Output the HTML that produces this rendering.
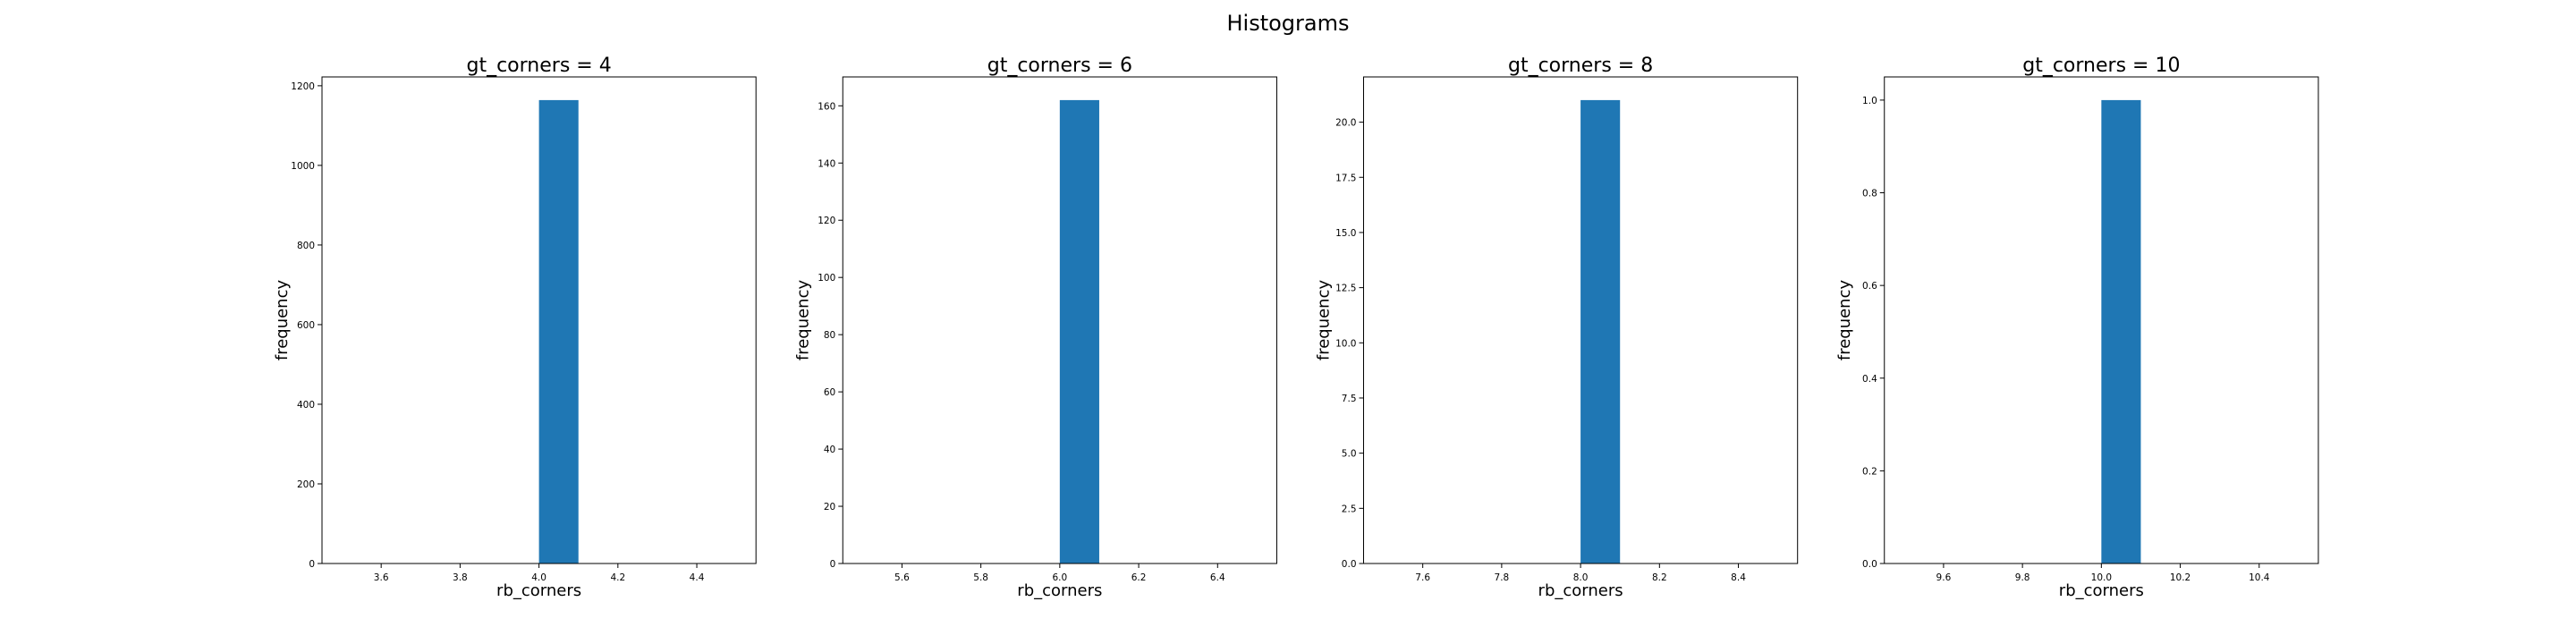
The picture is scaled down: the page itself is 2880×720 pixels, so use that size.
<!DOCTYPE html>
<html><head><meta charset="utf-8"><style>
html,body{margin:0;padding:0;background:#fff;width:2880px;height:720px;overflow:hidden}
svg text{font-family:"DejaVu Sans","Liberation Sans",sans-serif;fill:#000}
</style></head><body>
<svg id="fig" width="2880" height="720" xmlns="http://www.w3.org/2000/svg">
<rect width="2880" height="720" fill="#fff"/>
<text x="1440" y="34" font-size="24" text-anchor="middle">Histograms</text>
</svg>
<script>
const panelTitles = ["gt_corners = 4", "gt_corners = 6", "gt_corners = 8", "gt_corners = 10"];
const centers = [4, 6, 8, 10];
const counts4 = [0,0,0,0,0,1164,0,0,0,0];
const counts6 = [0,0,0,0,0,162,0,0,0,0];
const counts8 = [0,0,0,0,0,21,0,0,0,0];
const counts10 = [0,0,0,0,0,1,0,0,0,0];
const yTicks4 = [0,200,400,600,800,1000,1200];
const yTicks6 = [0,20,40,60,80,100,120,140,160];
const yTicks8 = [0,2.5,5,7.5,10,12.5,15,17.5,20];
const yTicks10 = [0,0.2,0.4,0.6,0.8,1.0];
const yDecimals = [0,0,1,1];
const xTickOffsets = [-0.4,-0.2,0,0.2,0.4];

const allCounts=[counts4,counts6,counts8,counts10];
const allYTicks=[yTicks4,yTicks6,yTicks8,yTicks10];
const NS="http://www.w3.org/2000/svg";
const svg=document.getElementById('fig');
function mk(tag,attrs,parent){const e=document.createElementNS(NS,tag);for(const k in attrs)e.setAttribute(k,attrs[k]);(parent||svg).appendChild(e);return e;}
const axTop=86,axBottom=630,W=485.2,gap=97.05,left0=360;
for(let p=0;p<4;p++){
  const g=mk('g',{});
  
  
  const L=left0+p*(W+gap),R=L+W;
  const c=centers[p],counts=allCounts[p];
  const lo=c-0.5,hi=c+0.5,xmin=lo-0.05,xmax=hi+0.05;
  const ymax=Math.max(...counts)*1.05;
  const X=v=>L+(v-xmin)/(xmax-xmin)*W;
  const Y=v=>axBottom-v/ymax*(axBottom-axTop);
  const bw=(hi-lo)/counts.length;
  counts.forEach((n,i)=>{
    if(n<=0)return;
    const b=mk('rect',{x:X(lo+i*bw),y:Y(n),width:X(lo+(i+1)*bw)-X(lo+i*bw),height:axBottom-Y(n),fill:'#1f77b4'},g);
    
    
  });
  const fr=mk('rect',{x:L,y:axTop,width:W,height:axBottom-axTop,fill:'none',stroke:'#000','stroke-width':1},g);
  
  
  allYTicks[p].forEach(t=>{
    const y=Y(t);
    mk('line',{x1:L-5,x2:L,y1:y,y2:y,stroke:'#000','stroke-width':1},g);
    const tx=mk('text',{x:L-8,y:y+4,'font-size':10.5,'text-anchor':'end'},g);
    tx.textContent=t.toFixed(yDecimals[p]);
    
    
  });
  xTickOffsets.forEach(o=>{
    const v=c+o,x=X(v);
    mk('line',{x1:x,x2:x,y1:axBottom,y2:axBottom+5,stroke:'#000','stroke-width':1},g);
    const tx=mk('text',{x:x,y:axBottom+19,'font-size':10.5,'text-anchor':'middle'},g);
    tx.textContent=v.toFixed(1);
    
    
  });
  const ti=mk('text',{x:(L+R)/2,y:80,'font-size':22,'text-anchor':'middle'},g);
  ti.textContent=panelTitles[p];
  
  
  const xl=mk('text',{x:(L+R)/2,y:666,'font-size':18,'text-anchor':'middle'},g);
  xl.textContent='rb_corners';
  
  
  const yl=mk('text',{x:0,y:0,'font-size':18,'text-anchor':'middle',transform:'translate('+(L-39)+','+((axTop+axBottom)/2)+') rotate(-90)'},g);
  yl.textContent='frequency';
  
  
}
</script>
</body></html>
